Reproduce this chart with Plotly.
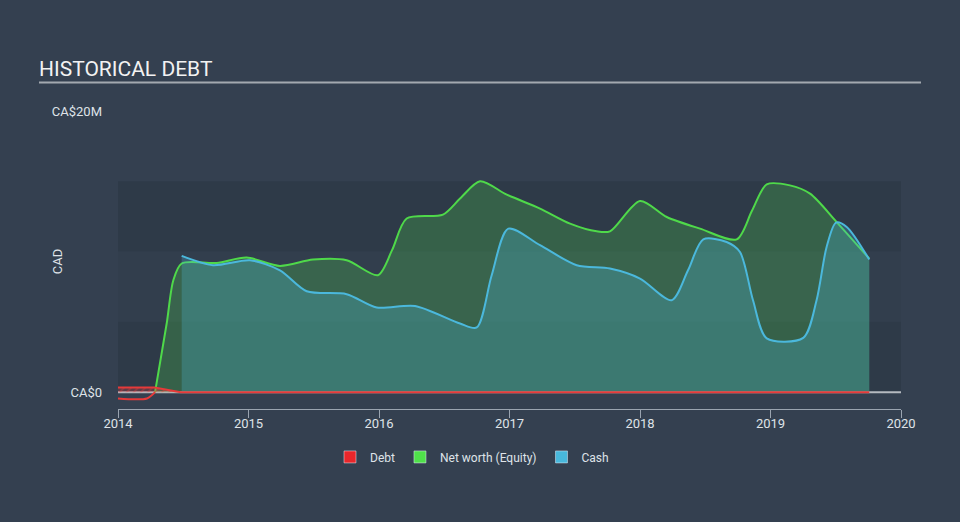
import plotly.graph_objects as go

# ---- data (years as decimal, values in CA$ millions) ----
networth_x = [2014.0, 2014.222, 2014.284, 2014.373, 2014.424, 2014.488, 2014.756, 2014.986,
              2015.241, 2015.494, 2015.752, 2015.992, 2016.10, 2016.212, 2016.490, 2016.621,
              2016.774, 2016.979, 2017.234, 2017.464, 2017.668, 2017.770, 2018.0, 2018.205,
              2018.460, 2018.741, 2018.858, 2018.971, 2019.149, 2019.303, 2019.507, 2019.757]
networth_y = [-0.45, -0.45, 0.0, 4.88, 7.96, 9.15, 9.19, 9.57,
              8.98, 9.43, 9.38, 8.32, 10.1, 12.35, 12.63, 13.77,
              15.0, 14.05, 13.06, 11.99, 11.44, 11.44, 13.6, 12.46,
              11.63, 10.87, 12.9, 14.78, 14.71, 14.12, 12.1, 9.5]

cash_x = [2014.488, 2014.728, 2015.011, 2015.241, 2015.446, 2015.752, 2015.982, 2016.276,
          2016.621, 2016.749, 2016.863, 2016.991, 2017.234, 2017.515, 2017.770, 2018.0,
          2018.243, 2018.368, 2018.485, 2018.664, 2018.766, 2018.866, 2018.971, 2019.251,
          2019.353, 2019.430, 2019.502, 2019.584, 2019.757]
cash_y = [9.69, 9.03, 9.38, 8.67, 7.18, 6.97, 6.02, 6.13,
          4.88, 4.60, 8.3, 11.63, 10.45, 9.03, 8.79, 8.08,
          6.54, 8.67, 10.87, 10.68, 9.97, 6.54, 3.82, 3.86,
          6.54, 10.33, 12.06, 11.75, 9.43]

debt_x = [2014.0, 2014.28, 2014.48, 2019.757]
debt_y = [0.33, 0.33, 0.0, 0.0]

year_ticks = [2014, 2015, 2016, 2017, 2018, 2019, 2020]
year_labels = ["2014", "2015", "2016", "2017", "2018", "2019", "2020"]
y_ticks = [0, 20]
y_labels = ["CA$0", "CA$20M"]

# ---- style ----
BG = "#344050"
BAND_DARK = "#2e3a48"
BAND_MID = "#323e4d"
GREEN = "#4fd94a"
BLUE = "#4bb8dc"
RED = "#e63a3a"
TXT = "#dfe3e8"
AXIS = "#9aa4b0"

# split net worth into negative (red) and positive (green) parts
k = next(i for i, v in enumerate(networth_y) if v >= 0 and i > 0 and networth_y[i - 1] < 0)
neg_x, neg_y = networth_x[:k + 1], networth_y[:k + 1]
pos_x, pos_y = networth_x[k:], networth_y[k:]

fig = go.Figure()

fig.add_trace(go.Scatter(x=pos_x, y=pos_y, mode="lines", fill="tozeroy",
                         fillcolor="rgba(80,220,80,0.24)",
                         line=dict(color=GREEN, width=2, shape="spline", smoothing=0.8),
                         showlegend=False, hoverinfo="skip"))
fig.add_trace(go.Scatter(x=cash_x, y=cash_y, mode="lines", fill="tozeroy",
                         fillcolor="rgba(75,184,220,0.28)",
                         line=dict(color=BLUE, width=2, shape="spline", smoothing=0.8),
                         showlegend=False, hoverinfo="skip"))
fig.add_trace(go.Scatter(x=neg_x, y=neg_y, mode="lines",
                         line=dict(color=RED, width=2, shape="spline", smoothing=0.8),
                         showlegend=False, hoverinfo="skip"))
fig.add_trace(go.Scatter(x=debt_x, y=debt_y, mode="lines", fill="tozeroy",
                         fillcolor="rgba(230,58,58,0.25)",
                         fillpattern=dict(shape="/", fgcolor="rgba(230,58,58,0.8)", size=5, solidity=0.3),
                         line=dict(color=RED, width=2),
                         showlegend=False, hoverinfo="skip"))

# legend entries
for name, col in [("Debt", "#e8262a"), ("Net worth (Equity)", "#4fe04a"), ("Cash", "#48b8dc")]:
    fig.add_trace(go.Bar(x=[None], y=[None], name=name, marker=dict(color=col)))

shapes = [
    dict(type="rect", xref="x", yref="y", x0=2014, x1=2020, y0=0, y1=5,
         fillcolor=BAND_DARK, line_width=0, layer="below"),
    dict(type="rect", xref="x", yref="y", x0=2014, x1=2020, y0=5, y1=10,
         fillcolor=BAND_MID, line_width=0, layer="below"),
    dict(type="rect", xref="x", yref="y", x0=2014, x1=2020, y0=10, y1=15,
         fillcolor=BAND_DARK, line_width=0, layer="below"),
    dict(type="line", xref="x", yref="y", x0=2014, x1=2020, y0=0, y1=0,
         line=dict(color="#b5bac0", width=2), layer="below"),
    # title underline
    dict(type="line", xref="paper", yref="paper", x0=(39 - 118) / 783, x1=(921 - 118) / 783,
         y0=(409 - 82) / 298.4, y1=(409 - 82) / 298.4,
         line=dict(color="#a3a9b0", width=2)),
]

annotations = [
    dict(text="CAD", xref="paper", yref="paper", x=(57 - 118) / 783, y=(409 - 262) / 298.4,
         xanchor="center", yanchor="middle", textangle=-90, showarrow=False,
         font=dict(size=13, color=TXT)),
]

fig.update_layout(
    width=960, height=522,
    margin=dict(l=118, r=59, t=110.6, b=113, autoexpand=False),
    paper_bgcolor=BG, plot_bgcolor="rgba(0,0,0,0)",
    font=dict(family="Roboto", color=TXT, size=12),
    title=dict(text="HISTORICAL DEBT", xref="container", yref="container",
               x=39 / 960, xanchor="left", y=1 - 69 / 522, yanchor="middle",
               font=dict(family="Roboto", size=21, color="#f2f2f2")),
    shapes=shapes,
    annotations=annotations,
    showlegend=True,
    legend=dict(orientation="h", x=(472 - 118) / 783, xanchor="center",
                y=(409 - 457) / 298.4, yanchor="middle",
                font=dict(size=12, color=TXT), bgcolor="rgba(0,0,0,0)",
                itemwidth=30, traceorder="normal"),
    xaxis=dict(range=[2014, 2020], tickvals=year_ticks, ticktext=year_labels,
               showgrid=False, zeroline=False, showline=True, linecolor=AXIS, linewidth=1,
               ticks="outside", ticklen=8, tickcolor=AXIS, ticklabelstandoff=-6,
               tickfont=dict(size=13, color=TXT), fixedrange=True),
    yaxis=dict(range=[-1.2, 20], tickvals=y_ticks, ticktext=y_labels,
               showgrid=False, zeroline=False, showline=False, ticks="",
               ticklabelstandoff=15, tickfont=dict(size=13, color=TXT),
               fixedrange=True),
)

fig.write_html("out.html")
